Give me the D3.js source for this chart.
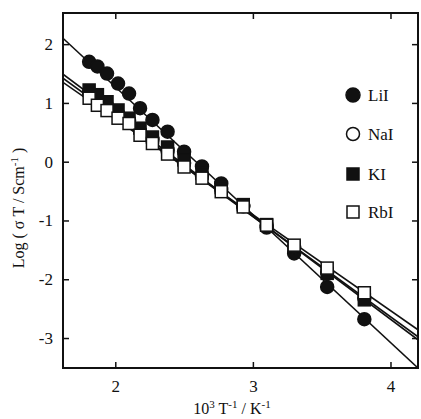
<!DOCTYPE html>
<html>
<head>
<meta charset="utf-8">
<script src="https://cdn.jsdelivr.net/npm/d3@7"></script>
<style>
  body { margin: 0; background: #fff; }
  text { font-family: "Liberation Serif", "DejaVu Serif", serif; fill: #111; }
</style>
</head>
<body>
<script>
// data: x = 10^3 / T, y = log(sigma T)
var invT = [1.81, 1.87, 1.94, 2.02, 2.10, 2.18, 2.27, 2.38, 2.50, 2.63, 2.77, 2.93, 3.10, 3.30, 3.54, 3.81];
var liI = [1.70, 1.62, 1.50, 1.33, 1.16, 0.91, 0.71, 0.51, 0.17, -0.08, -0.37, -0.76, -1.12, -1.56, -2.13, -2.68];
var naI = [1.18, 1.08, 0.95, 0.82, 0.70, 0.52, 0.38, 0.20, -0.02, -0.24, -0.47, -0.75, -1.08, -1.45, -1.88, -2.32];
var kI = [1.22, 1.14, 1.02, 0.88, 0.74, 0.57, 0.42, 0.25, 0.03, -0.20, -0.44, -0.73, -1.07, -1.45, -1.90, -2.35];
var rbI = [1.08, 0.96, 0.87, 0.74, 0.65, 0.45, 0.31, 0.13, -0.09, -0.28, -0.51, -0.77, -1.08, -1.42, -1.81, -2.23];

// fitted lines, given by their two ends
var fitX = [1.62, 4.2];
var fitLiI = [2.10, -3.51];
var fitNaI = [1.42, -2.98];
var fitKI = [1.49, -3.03];
var fitRbI = [1.35, -2.86];

var xTicks = [2, 3, 4];
var yTicks = [-3, -2, -1, 0, 1, 2];
var saltNames = ["LiI", "NaI", "KI", "RbI"];

var svgWidth = 421, svgHeight = 419;
var margin = { top: 13, right: 3, bottom: 51, left: 63 };
var width = svgWidth - margin.left - margin.right;
var height = svgHeight - margin.top - margin.bottom;

var svg = d3.select("body").append("svg")
  .attr("width", svgWidth)
  .attr("height", svgHeight);

var chartGroup = svg.append("g")
  .attr("transform", "translate(" + margin.left + "," + margin.top + ")");

var xScale = d3.scaleLinear().domain([1.62, 4.2]).range([0, width]);
var yScale = d3.scaleLinear().domain([-3.51, 2.53]).range([height, 0]);

chartGroup.append("clipPath").attr("id", "plotClip")
  .append("rect").attr("width", width).attr("height", height);

// axes, ticks pointing inward
var fmt = function(d) { return d < 0 ? "-" + Math.abs(d) : String(d); };

var bottomAxis = chartGroup.append("g")
  .attr("transform", "translate(0," + height + ")")
  .call(d3.axisBottom(xScale).tickValues(xTicks).tickSizeInner(-6).tickSizeOuter(0).tickPadding(12).tickFormat(fmt));
var leftAxis = chartGroup.append("g")
  .call(d3.axisLeft(yScale).tickValues(yTicks).tickSizeInner(-6).tickSizeOuter(0).tickPadding(10).tickFormat(fmt));
var topAxis = chartGroup.append("g")
  .call(d3.axisTop(xScale).tickValues(xTicks).tickSizeInner(-6).tickSizeOuter(0).tickFormat(""));
var rightAxis = chartGroup.append("g")
  .attr("transform", "translate(" + width + ",0)")
  .call(d3.axisRight(yScale).tickValues(yTicks).tickSizeInner(-6).tickSizeOuter(0).tickFormat(""));

[bottomAxis, leftAxis, topAxis, rightAxis].forEach(function(ax) {
  ax.select(".domain").remove();
  ax.selectAll("line").attr("stroke", "#111").attr("stroke-width", 1.5);
  ax.selectAll("text").style("font-size", "17px").attr("fill", "#111");
});

chartGroup.append("rect")
  .attr("width", width).attr("height", height)
  .attr("fill", "none").attr("stroke", "#111").attr("stroke-width", 2);

// fit lines
var fits = [fitLiI, fitNaI, fitKI, fitRbI];
var line = d3.line().x(function(d) { return xScale(d[0]); }).y(function(d) { return yScale(d[1]); });
chartGroup.append("g").attr("clip-path", "url(#plotClip)")
  .selectAll("path").data(fits).enter().append("path")
  .attr("d", function(f) { return line([[fitX[0], f[0]], [fitX[1], f[1]]]); })
  .attr("fill", "none").attr("stroke", "#111").attr("stroke-width", 1.6);

function pairs(ys) { return invT.map(function(x, i) { return [x, ys[i]]; }); }

function drawCircles(ys, fill) {
  chartGroup.append("g").selectAll("circle").data(pairs(ys)).enter().append("circle")
    .attr("cx", function(d) { return xScale(d[0]); })
    .attr("cy", function(d) { return yScale(d[1]); })
    .attr("r", 6.5)
    .attr("fill", fill).attr("stroke", "#111").attr("stroke-width", 1.5);
}
function drawSquares(ys, fill) {
  chartGroup.append("g").selectAll("rect").data(pairs(ys)).enter().append("rect")
    .attr("x", function(d) { return xScale(d[0]) - 6; })
    .attr("y", function(d) { return yScale(d[1]) - 6; })
    .attr("width", 12).attr("height", 12)
    .attr("fill", fill).attr("stroke", "#111").attr("stroke-width", 1.5);
}

drawCircles(liI, "#111");
drawCircles(naI, "#fff");
drawSquares(kI, "#111");
drawSquares(rbI, "#fff");

// legend
var legendY = [95, 134, 174, 212];
var legend = svg.append("g");
saltNames.forEach(function(name, i) {
  var cy = legendY[i];
  if (i < 2) {
    legend.append("circle").attr("cx", 353).attr("cy", cy).attr("r", i === 0 ? 7 : 6.5)
      .attr("fill", i === 0 ? "#111" : "#fff").attr("stroke", "#111").attr("stroke-width", 1.5);
  } else {
    legend.append("rect").attr("x", 347).attr("y", cy - 6).attr("width", 12).attr("height", 12)
      .attr("fill", i === 2 ? "#111" : "#fff").attr("stroke", "#111").attr("stroke-width", 1.5);
  }
  legend.append("text").attr("x", 368).attr("y", cy + 6)
    .style("font-size", "17px").text(name);
});

// axis titles
var xTitle = svg.append("text")
  .attr("x", 232).attr("y", 414)
  .attr("text-anchor", "middle")
  .style("font-size", "16px");
xTitle.append("tspan").text("10");
xTitle.append("tspan").attr("dy", -6).style("font-size", "11px").text("3");
xTitle.append("tspan").attr("dy", 6).text(" T");
xTitle.append("tspan").attr("dy", -6).style("font-size", "11px").text("-1");
xTitle.append("tspan").attr("dy", 6).text(" / K");
xTitle.append("tspan").attr("dy", -6).style("font-size", "11px").text("-1");

var yTitle = svg.append("text")
  .attr("transform", "translate(24,208) rotate(-90)")
  .attr("text-anchor", "middle")
  .style("font-size", "16px");
yTitle.append("tspan").text("Log ( \u03c3 T / Scm");
yTitle.append("tspan").attr("dy", -6).style("font-size", "11px").text("-1");
yTitle.append("tspan").attr("dy", 6).text(" )");
</script>
</body>
</html>
